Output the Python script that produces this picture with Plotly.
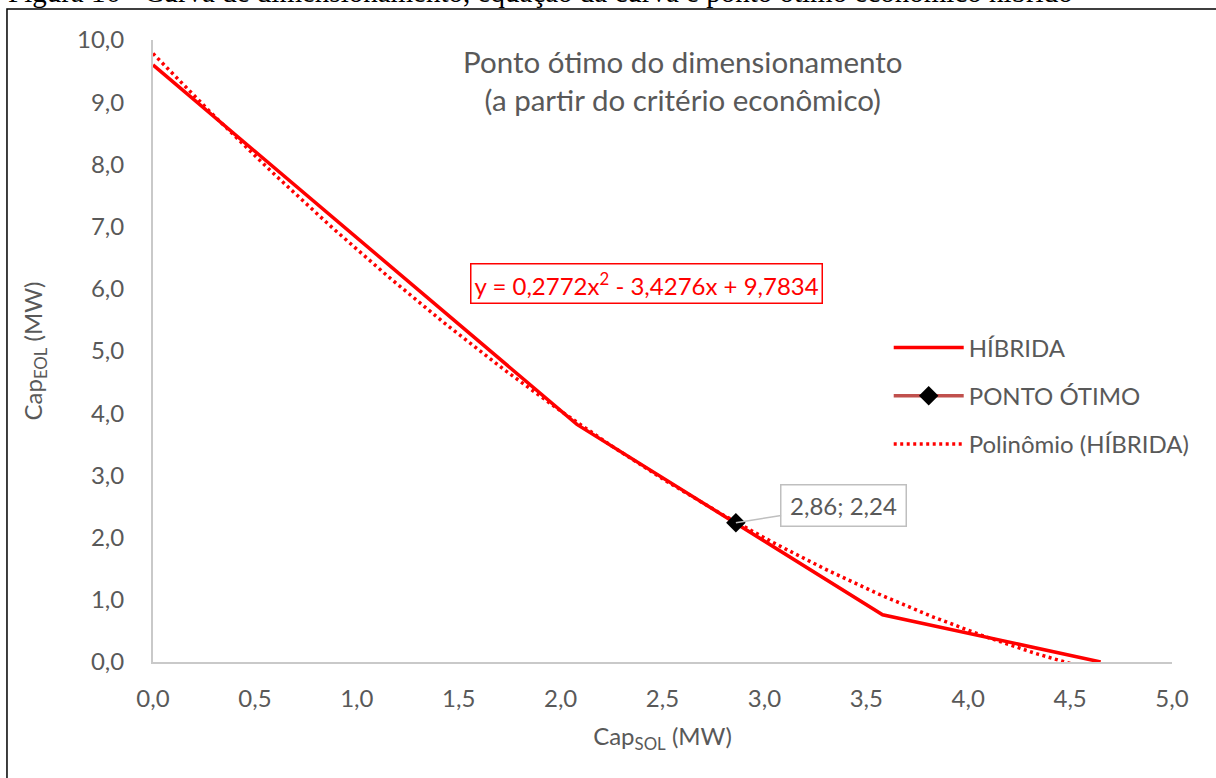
import numpy as np
import plotly.graph_objects as go

# Hybrid sizing curve: solar capacity vs wind capacity (MW)
cap_sol = [0.0, 2.08, 3.58, 4.65]
cap_eol = [9.60, 3.82, 0.76, 0.0]

# Economic optimum point
opt_sol = [2.86]
opt_eol = [2.24]

# 2nd-order polynomial trendline coefficients (y = a x^2 + b x + c)
poly_a, poly_b, poly_c = 0.2772, -3.4276, 9.7834

x_ticks = [0.0, 0.5, 1.0, 1.5, 2.0, 2.5, 3.0, 3.5, 4.0, 4.5, 5.0]
y_ticks = [0, 1, 2, 3, 4, 5, 6, 7, 8, 9, 10]

GRAY_TXT = "#595959"
AXIS_CLR = "#C9C9C9"
RED = "#FF0000"
FONT = "Lato"
FS = 24

# trendline evaluated across the data range
xt = np.linspace(min(cap_sol), max(cap_sol), 200)
yt = poly_a * xt**2 + poly_b * xt + poly_c

fig = go.Figure()

fig.add_trace(go.Scatter(
    x=cap_sol, y=cap_eol, mode="lines", name="HÍBRIDA",
    line=dict(color=RED, width=3.5), legendgroup="a", legendrank=1,
))
fig.add_trace(go.Scatter(
    x=xt, y=yt, mode="lines", name="Polinômio (HÍBRIDA)",
    line=dict(color=RED, width=3.5, dash="3px,3.5px"), legendgroup="c",
    legendrank=3,
))
fig.add_trace(go.Scatter(
    x=opt_sol, y=opt_eol, mode="lines+markers", name="PONTO ÓTIMO",
    line=dict(color="#C0504D", width=3.5),
    marker=dict(symbol="diamond", size=15, color="black"),
    legendgroup="b", legendrank=2,
))

fig.update_layout(
    width=1216, height=778,
    margin=dict(l=153, r=44, t=40, b=116, autoexpand=False),
    paper_bgcolor="white", plot_bgcolor="white",
    separators=", ",
    font=dict(family=FONT, size=FS, color=GRAY_TXT),
    showlegend=True,
    legend=dict(
        x=0.722, y=0.541, xanchor="left", yanchor="top",
        traceorder="grouped", tracegroupgap=14, itemwidth=70,
        font=dict(family=FONT, size=FS, color=GRAY_TXT),
        bgcolor="rgba(0,0,0,0)",
    ),
    xaxis=dict(
        range=[0, 5], tickvals=x_ticks, tickformat=".1f",
        showgrid=False, zeroline=False,
        showline=True, linecolor=AXIS_CLR, linewidth=2,
        ticks="", ticklabelstandoff=14,
        tickfont=dict(family=FONT, size=FS, color=GRAY_TXT),
        title=dict(text="Cap<sub>SOL</sub> (MW)", standoff=17,
                   font=dict(family=FONT, size=FS, color=GRAY_TXT)),
    ),
    yaxis=dict(
        range=[0, 10], tickvals=y_ticks, tickformat=".1f",
        showgrid=False, zeroline=False,
        showline=True, linecolor=AXIS_CLR, linewidth=2,
        ticks="", ticklabelstandoff=22,
        tickfont=dict(family=FONT, size=FS, color=GRAY_TXT),
        title=dict(text="Cap<sub>EOL</sub> (MW)", standoff=28,
                   font=dict(family=FONT, size=FS, color=GRAY_TXT)),
    ),
)

annotations = [
    # chart title
    dict(x=2.6, y=9.35, xref="x", yref="y",
         text="Ponto ótimo do dimensionamento<br>(a partir do critério econômico)",
         showarrow=False, font=dict(family=FONT, size=29.5, color=GRAY_TXT),
         align="center"),
    # trendline equation
    dict(x=2.42, y=6.09, xref="x", yref="y",
         text=f"y = {poly_a:.4f}x<sup>2</sup> - {abs(poly_b):.4f}x + {poly_c:.4f}".replace(".", ","),
         showarrow=False, font=dict(family=FONT, size=24, color=RED),
         bordercolor=RED, borderwidth=1.5, borderpad=3, bgcolor="white"),
    # optimum data label
    dict(x=opt_sol[0], y=opt_eol[0], xref="x", yref="y",
         text=f"{opt_sol[0]:.2f}; {opt_eol[0]:.2f}".replace(".", ","),
         showarrow=True, arrowhead=0, arrowwidth=1.5, arrowcolor="#BFBFBF",
         ax=108, ay=-17, standoff=0, width=112, height=28,
         font=dict(family=FONT, size=FS, color=GRAY_TXT),
         bordercolor="#BFBFBF", borderwidth=1.5, borderpad=6, bgcolor="white"),
    # figure caption above the frame
    dict(x=0.0, y=1.077, xref="paper", yref="paper", xanchor="left",
         yanchor="middle", xshift=-147,
         text="Figura 16 - Curva de dimensionamento, equação da curva e ponto ótimo econômico híbrido",
         showarrow=False, font=dict(family="Liberation Serif", size=29, color="black")),
]
fig.update_layout(annotations=annotations)

# frame around the chart
fig.add_shape(type="rect", xref="paper", yref="paper",
              x0=-0.1433, x1=1.2, y0=-0.4, y1=1.0498,
              line=dict(color="black", width=1.5), layer="below")

fig.write_html("out.html")
